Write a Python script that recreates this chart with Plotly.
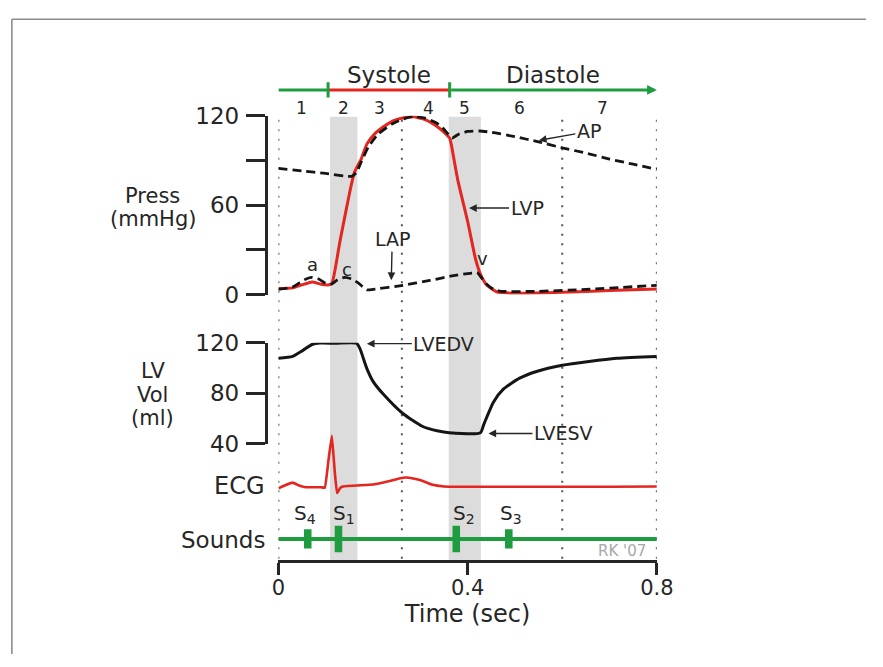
import plotly.graph_objects as go

W, H = 883, 667

# ---------------- data ----------------
# Left ventricular pressure (mmHg)
lvp_t = [0, 0.03, 0.055, 0.071, 0.09, 0.105, 0.113, 0.13, 0.16, 0.175, 0.187, 0.205,
         0.222, 0.245, 0.263, 0.285, 0.31, 0.33, 0.345, 0.355, 0.362, 0.3654, 0.379,
         0.4, 0.417, 0.427, 0.441, 0.461, 0.5, 0.6, 0.7, 0.8]
lvp_p = [4, 4.5, 7, 8.4, 7, 6.5, 7.5, 35.5, 81.5, 91, 101, 108.4, 112.7, 117, 118.5,
         119.3, 117.5, 114, 110.5, 107.5, 105, 100.8, 77.2, 49.2, 23.4, 13.8, 6.2,
         1.9, 0.9, 1.5, 2.8, 3.7]

# Aortic pressure (mmHg)
ap_t = [0, 0.05, 0.1, 0.155, 0.165, 0.175, 0.19, 0.21, 0.24, 0.265, 0.285, 0.31,
        0.335, 0.35, 0.362, 0.367, 0.38, 0.4, 0.425, 0.45, 0.5, 0.55, 0.6, 0.65,
        0.7, 0.75, 0.8]
ap_p = [84.7, 83, 81.3, 79.4, 82, 89, 99, 107.5, 114.5, 118, 119.5, 118.5, 115,
        111, 106.5, 105, 107.5, 109.5, 109.8, 109, 106, 102.5, 98.5, 95, 91, 87.5, 84]

# Left atrial pressure (mmHg)
lap_t = [0, 0.03, 0.055, 0.07, 0.085, 0.1, 0.112, 0.125, 0.14, 0.155, 0.17, 0.187,
         0.2, 0.263, 0.32, 0.37, 0.405, 0.42, 0.43, 0.441, 0.455, 0.47, 0.55, 0.65, 0.8]
lap_p = [3.5, 5, 10, 11.6, 10.5, 7.5, 7, 10, 11.6, 10.5, 7.5, 3.2, 3.5, 6.2, 9.5,
         12.7, 14.3, 14.8, 11, 6.8, 3.5, 2.2, 2.2, 3.5, 6.2]

# Left ventricular volume (ml)
vol_t = [0, 0.03, 0.05, 0.071, 0.088, 0.12, 0.165, 0.173, 0.18, 0.187, 0.2, 0.222,
         0.263, 0.304, 0.338, 0.361, 0.427, 0.434, 0.441, 0.4545, 0.475, 0.51,
         0.544, 0.6, 0.715, 0.8]
vol_v = [107.6, 109.1, 113.4, 118.5, 119.6, 119.5, 119.5, 114.7, 107, 99.4, 89.3,
         79, 63.8, 53.7, 49.9, 48.6, 48.6, 55, 61.3, 72.8, 82.9, 91.8, 96.9, 102,
         107.6, 109.1]

# ECG (mV)
ecg_t = [0, 0.012, 0.03, 0.045, 0.058, 0.09, 0.098, 0.106, 0.113, 0.119, 0.124,
         0.13, 0.136, 0.2, 0.235, 0.255, 0.27, 0.285, 0.304, 0.324, 0.35, 0.8]
ecg_v = [-0.05, 0.02, 0.1, 0.02, -0.02, -0.02, -0.03, 0.7, 1.32, 0.4, -0.17, -0.05,
         0.0, 0.05, 0.14, 0.21, 0.235, 0.21, 0.15, 0.05, 0.0, 0.0]

# Heart sounds
sound_sub = ["4", "1", "2", "3"]
sound_t = [0.062, 0.127, 0.376, 0.487]
sound_amp = [0.8, 1.1, 1.1, 0.8]

# Cardiac cycle phases
phase_labels = ["1", "2", "3", "4", "5", "6", "7"]
phase_label_t = [0.048, 0.138, 0.214, 0.318, 0.393, 0.51, 0.685]
iso_contraction = [0.109, 0.167]
iso_relaxation = [0.36, 0.428]
systole_span = [0.105, 0.362]
cycle_end = 0.8
guide_t = [0, 0.261, 0.6, 0.8]

press_ticks = [0, 60, 120]
press_minor_ticks = [30, 90]
vol_ticks = [40, 80, 120]
time_ticks = [0, 0.4, 0.8]
time_ticktext = ["0", "0.4", "0.8"]

# ---------------- style ----------------
INK = "#262626"
RED = "#e3261f"
GREEN = "#1e9c3f"
BAND = "#dcdcdc"
FONT = "DejaVu Sans"


def fx(px):
    return px / W


def fy(py):
    return 1 - py / H


fig = go.Figure()

# pressure panel
fig.add_trace(go.Scatter(x=lvp_t, y=lvp_p, mode="lines", xaxis="x", yaxis="y",
                         line=dict(color=RED, width=3, shape="spline", smoothing=0.5),
                         hoverinfo="skip"))
for t, p in ((ap_t, ap_p), (lap_t, lap_p)):
    fig.add_trace(go.Scatter(x=t, y=p, mode="lines", xaxis="x", yaxis="y",
                             line=dict(color="#151515", width=2.8, dash="9px,5px",
                                       shape="spline", smoothing=0.5),
                             hoverinfo="skip"))

# volume panel
fig.add_trace(go.Scatter(x=vol_t, y=vol_v, mode="lines", xaxis="x", yaxis="y2",
                         line=dict(color="#151515", width=3, shape="spline", smoothing=0.6),
                         hoverinfo="skip"))

# ECG
fig.add_trace(go.Scatter(x=ecg_t, y=ecg_v, mode="lines", xaxis="x", yaxis="y3",
                         line=dict(color=RED, width=2.6, shape="spline", smoothing=0.3),
                         hoverinfo="skip"))

# heart sounds
fig.add_trace(go.Scatter(x=[0, cycle_end], y=[0, 0], mode="lines", xaxis="x", yaxis="y4",
                         line=dict(color=GREEN, width=4), hoverinfo="skip"))
fig.add_trace(go.Bar(x=sound_t, y=sound_amp, base=[-a / 2 for a in sound_amp],
                     width=0.016, xaxis="x", yaxis="y4",
                     marker=dict(color=GREEN, line=dict(width=0)), hoverinfo="skip"))

# systole / diastole timeline
fig.add_trace(go.Scatter(x=[0, systole_span[0]], y=[0, 0], mode="lines", xaxis="x",
                         yaxis="y5", line=dict(color=GREEN, width=3), hoverinfo="skip"))
fig.add_trace(go.Scatter(x=systole_span, y=[0, 0], mode="lines", xaxis="x",
                         yaxis="y5", line=dict(color=RED, width=3), hoverinfo="skip"))
fig.add_trace(go.Scatter(x=[systole_span[0], systole_span[0], None,
                            systole_span[1], systole_span[1]],
                         y=[-0.4, 0.4, None, -0.4, 0.4], mode="lines", xaxis="x",
                         yaxis="y5", line=dict(color=GREEN, width=3), hoverinfo="skip"))

shapes = []
# frame
shapes.append(dict(type="line", xref="paper", yref="paper", x0=fx(5), x1=1,
                   y0=fy(6.5), y1=fy(6.5), line=dict(color="#8c8c8c", width=1.6)))
shapes.append(dict(type="line", xref="paper", yref="paper", x0=fx(5), x1=fx(5),
                   y0=0, y1=fy(6.5), line=dict(color="#8c8c8c", width=1.6)))
# isovolumic periods
for a, b in (iso_contraction, iso_relaxation):
    shapes.append(dict(type="rect", xref="x", yref="paper", x0=a, x1=b,
                       y0=fy(570), y1=fy(108), fillcolor=BAND, line=dict(width=0),
                       layer="below"))
# dotted guides
for t in guide_t:
    shapes.append(dict(type="line", xref="x", yref="paper", x0=t, x1=t,
                       y0=fy(568), y1=fy(108), layer="below",
                       line=dict(color="#555555", width=2, dash="2px,7.5px")))

ann = []


def label(text, x, y, size, xref="paper", yref="paper", color=INK, **kw):
    d = dict(text=text, x=x, y=y, xref=xref, yref=yref, showarrow=False,
             xanchor="center", yanchor="middle",
             font=dict(family=FONT, size=size, color=color))
    d.update(kw)
    ann.append(d)


def pointer(text, x, y, ax, ay, yref="y"):
    ann.append(dict(text=text, x=x, y=y, xref="x", yref=yref, ax=ax, ay=ay,
                    showarrow=True, arrowhead=2, arrowsize=1.1, arrowwidth=1.4,
                    arrowcolor=INK, font=dict(family=FONT, size=19, color=INK)))


# timeline labels
label("Systole", sum(systole_span) / 2, fy(64), 23, xref="x")
label("Diastole", (systole_span[1] + cycle_end) / 2, fy(64), 23, xref="x")
ann.append(dict(x=cycle_end, y=0, ax=systole_span[1], ay=0, xref="x", yref="y5",
                axref="x", ayref="y5", showarrow=True, arrowhead=2, arrowsize=0.65,
                arrowwidth=3, arrowcolor=GREEN, text=""))
for s, t in zip(phase_labels, phase_label_t):
    label(s, t, fy(99), 17, xref="x")

# panel titles
label("Press", fx(150), fy(190), 21)
label("(mmHg)", fx(150), fy(214), 21)
label("LV", fx(150), fy(373), 21)
label("Vol", fx(150), fy(397), 21)
label("(ml)", fx(150), fy(421), 21)
label("ECG", fx(267), fy(492), 24, xanchor="right")
label("Sounds", fx(267), fy(548), 23, xanchor="right")

# curve call-outs
pointer("AP", 0.5505, 103.5, 50, -9)
pointer("LVP", 0.403, 58.1, 58, 0)
pointer("LAP", 0.2386, 9.7, 1, -41)
pointer("LVEDV", 0.187, 119.2, 77, 0, yref="y2")
pointer("LVESV", 0.444, 48, 75, 0, yref="y2")
label("a", 0.072, 20, 18, xref="x", yref="y")
label("c", 0.144, 17, 18, xref="x", yref="y")
label("v", 0.432, 24.5, 18, xref="x", yref="y")

# heart sound labels
for s, t, sh in zip(sound_sub, sound_t, [-3, 6, 8, 2]):
    label("S<sub>%s</sub>" % s, t, fy(521), 20, xref="x", xshift=sh)

label("RK '07", fx(632), fy(560), 15, color="#a8a8a8")

axis_common = dict(showgrid=False, zeroline=False, showline=True, linecolor=INK,
                   linewidth=3, ticks="outside", tickwidth=3, tickcolor=INK,
                   tickfont=dict(family=FONT, size=23, color=INK))
hidden = dict(visible=False, showgrid=False, zeroline=False, fixedrange=True)

fig.update_layout(
    width=W, height=H,
    margin=dict(l=0, r=0, t=0, b=0, pad=0),
    paper_bgcolor="white", plot_bgcolor="rgba(0,0,0,0)",
    showlegend=False, barmode="overlay",
    font=dict(family=FONT, color=INK),
    xaxis=dict(domain=[fx(279), fx(668)], range=[0, cycle_end], anchor="free",
               position=fy(570), tickvals=time_ticks, ticktext=time_ticktext,
               ticklen=12, ticklabelstandoff=-5,
               title=dict(text="Time (sec)",
                          font=dict(family=FONT, size=24, color=INK),
                          standoff=4),
               **{**axis_common, "tickfont": dict(family=FONT, size=21, color=INK)}),
    yaxis=dict(domain=[fy(293), fy(107)], range=[0, 120], anchor="free",
               position=fx(266), tickvals=press_ticks, ticklen=19,
               ticklabelstandoff=2,
               minor=dict(tickvals=press_minor_ticks, ticks="outside", ticklen=19,
                          tickwidth=3, tickcolor=INK, showgrid=False),
               **axis_common),
    yaxis2=dict(domain=[fy(448), fy(343)], range=[40, 120], anchor="free",
                position=fx(266), tickvals=vol_ticks, ticklen=19,
                ticklabelstandoff=2, **axis_common),
    yaxis3=dict(domain=[fy(520), fy(430)], range=[-0.6825, 1.5675], anchor="x", **hidden),
    yaxis4=dict(domain=[fy(575), fy(520)], range=[-1.108, 1.092], anchor="x", **hidden),
    yaxis5=dict(domain=[fy(100), fy(60)], range=[-1, 1], anchor="x", **hidden),
    shapes=shapes,
    annotations=ann,
)

# page body without the default browser margin so the figure fills the window
fig.write_html("out.html",
               post_script="document.body.style.margin='0';"
                           "document.body.style.overflow='hidden';")
